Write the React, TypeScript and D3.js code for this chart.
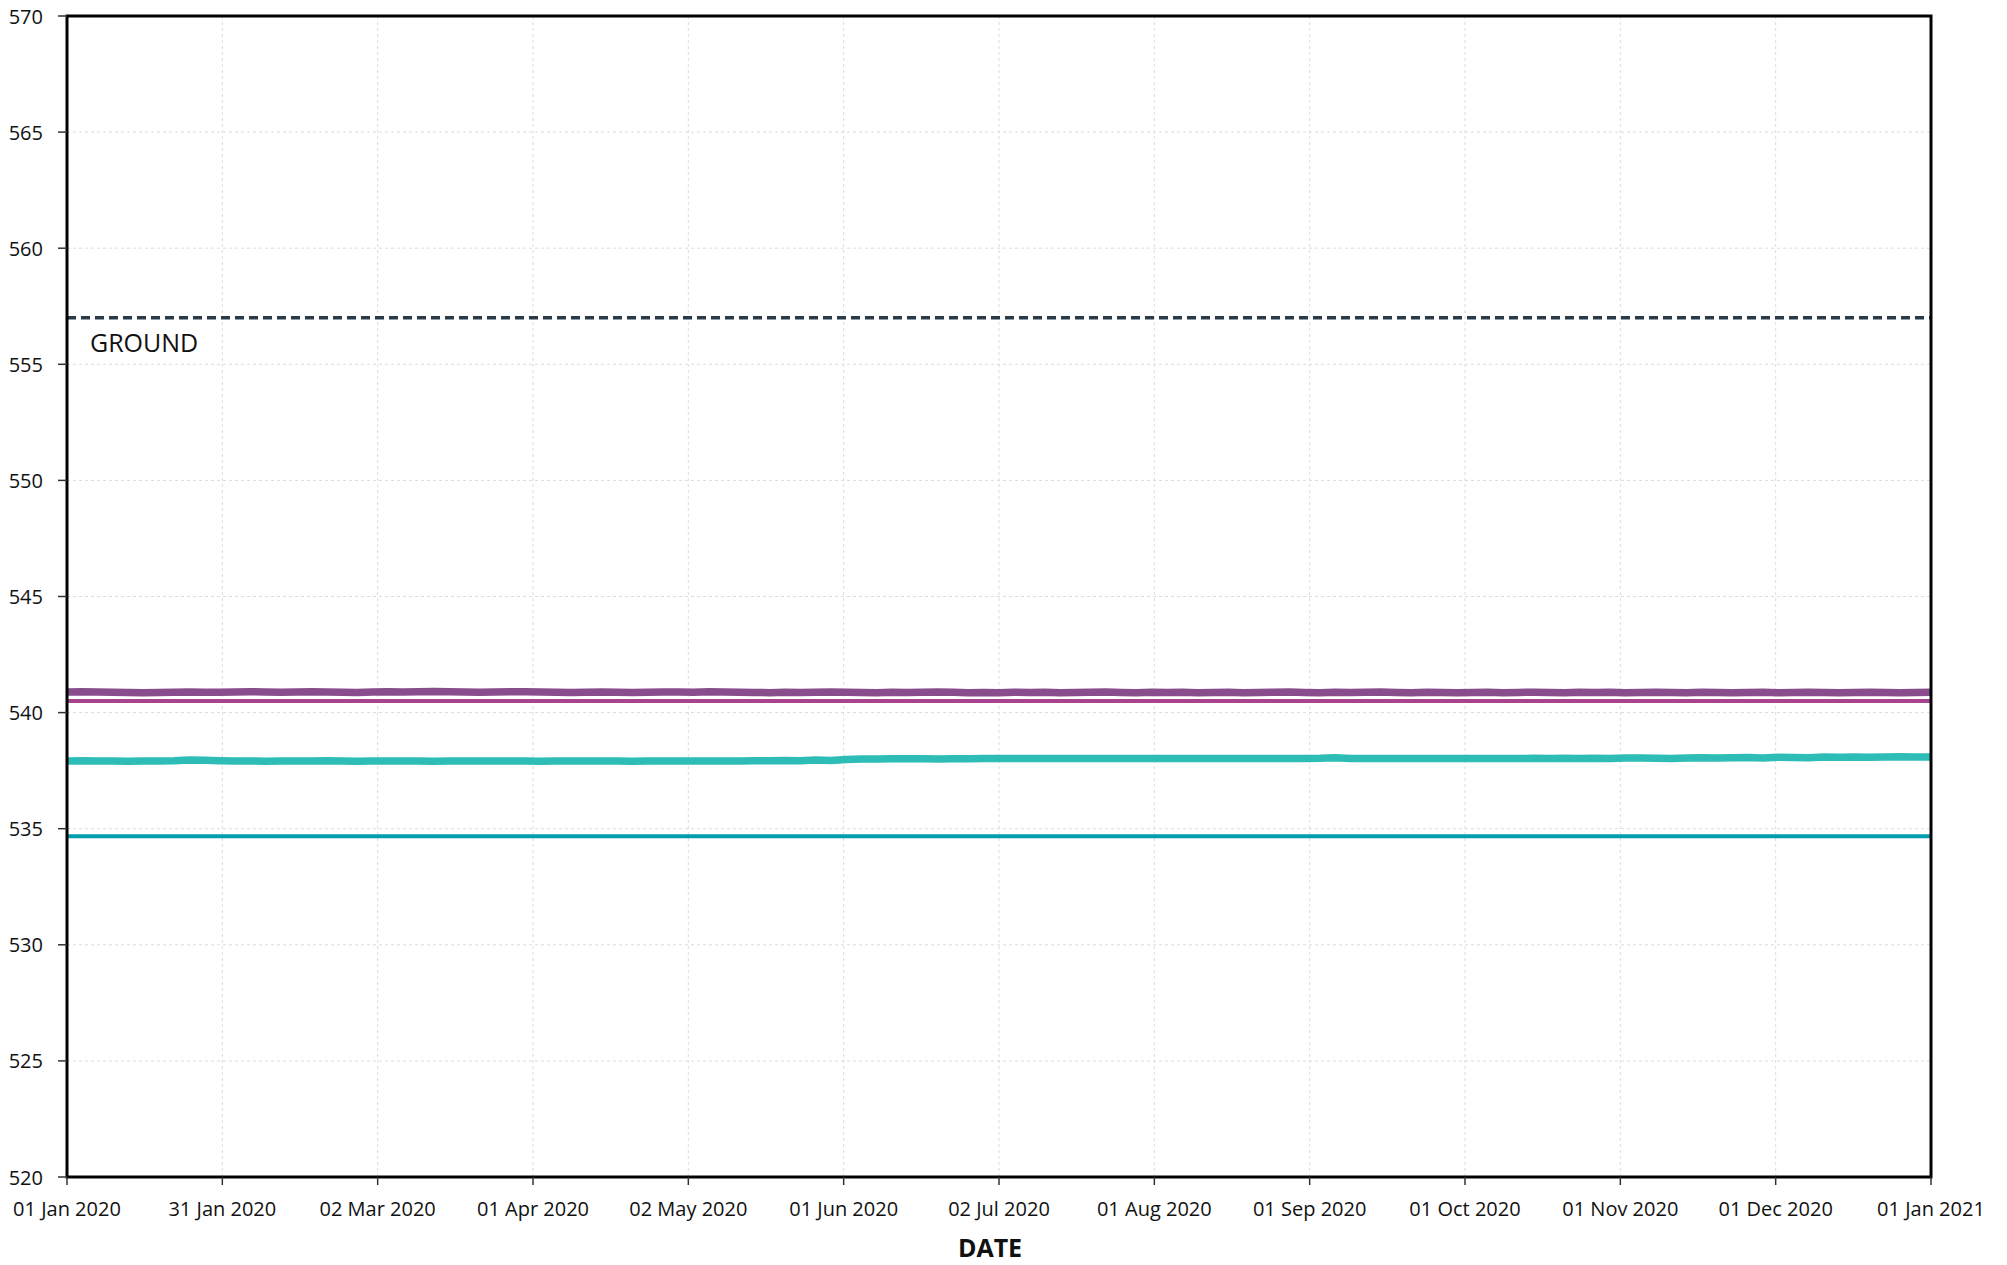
import React from "react";
import * as d3 from "d3";

// ---- data ----
const startDate = "2020-01-01";
const endDate = "2021-01-01";
const stepDays = 3; // purple/teal readings every 3 days
const yTicks = [520, 525, 530, 535, 540, 545, 550, 555, 560, 565, 570];
const xTickCount = 13;
const groundLevel = 557;
const pinkLevel = 540.5;
const blueLevel = 534.68;

const purpleValues = [
  540.89,540.90,540.89,540.88,540.87,540.86,540.87,540.88,540.89,540.88,
  540.88,540.89,540.90,540.89,540.88,540.89,540.90,540.89,540.88,540.87,
  540.89,540.90,540.89,540.90,540.91,540.90,540.89,540.88,540.89,540.90,
  540.90,540.89,540.88,540.87,540.88,540.89,540.88,540.87,540.88,540.89,
  540.89,540.88,540.90,540.89,540.88,540.87,540.86,540.88,540.87,540.88,
  540.89,540.88,540.87,540.86,540.88,540.87,540.88,540.89,540.88,540.86,
  540.87,540.86,540.88,540.87,540.88,540.86,540.87,540.88,540.89,540.87,
  540.86,540.88,540.87,540.88,540.86,540.87,540.88,540.86,540.87,540.88,
  540.89,540.87,540.86,540.88,540.87,540.88,540.89,540.87,540.86,540.88,
  540.87,540.86,540.87,540.88,540.86,540.87,540.88,540.87,540.86,540.88,
  540.87,540.88,540.86,540.87,540.88,540.87,540.86,540.88,540.87,540.86,
  540.87,540.88,540.86,540.87,540.88,540.87,540.86,540.87,540.88,540.87,
  540.86,540.87,540.88,
];

const tealValues = [
  537.92,537.93,537.92,537.92,537.91,537.92,537.92,537.93,537.96,537.95,
  537.93,537.92,537.92,537.91,537.92,537.92,537.92,537.93,537.92,537.91,
  537.92,537.92,537.92,537.92,537.91,537.92,537.92,537.92,537.92,537.92,
  537.92,537.91,537.92,537.92,537.92,537.92,537.92,537.91,537.92,537.92,
  537.92,537.92,537.92,537.92,537.92,537.93,537.93,537.94,537.93,537.96,
  537.94,537.98,538.00,538.00,538.01,538.01,538.01,538.00,538.01,538.01,
  538.02,538.02,538.02,538.02,538.02,538.02,538.02,538.02,538.02,538.02,
  538.02,538.02,538.02,538.02,538.02,538.02,538.02,538.02,538.02,538.02,
  538.02,538.02,538.03,538.06,538.02,538.02,538.02,538.02,538.02,538.02,
  538.02,538.02,538.02,538.02,538.02,538.02,538.03,538.02,538.03,538.02,
  538.03,538.02,538.04,538.05,538.03,538.02,538.04,538.06,538.05,538.06,
  538.07,538.05,538.08,538.07,538.06,538.09,538.08,538.09,538.08,538.09,
  538.10,538.09,538.09,
];

// ---- layout ----
const W = 2007;
const H = 1265;
const M = { left: 67, right: 1931, top: 16, bottom: 1177 };
const FONT = "'Open Sans', 'Noto Sans', sans-serif";

export default function App() {
  const t0 = new Date(startDate + "T00:00:00");
  const t1 = new Date(endDate + "T00:00:00");
  const x = d3.scaleTime().domain([t0, t1]).range([M.left, M.right]);
  const y = d3.scaleLinear().domain([520, 570]).range([M.bottom, M.top]);

  const dateAt = (i: number) => d3.timeDay.offset(t0, i * stepDays);
  const purple = purpleValues.map((v, i) => ({ d: dateAt(i), v }));
  const teal = tealValues.map((v, i) => ({ d: dateAt(i), v }));

  const line = d3
    .line<{ d: Date; v: number }>()
    .x((p) => x(p.d))
    .y((p) => y(p.v));

  const span = t1.getTime() - t0.getTime();
  const xTicks = d3
    .range(xTickCount)
    .map((i) => new Date(t0.getTime() + (span * i) / (xTickCount - 1)));
  const fmt = d3.timeFormat("%d %b %Y");

  return (
    <svg
      width={W}
      height={H}
      style={{ position: "absolute", left: 0, top: 0, background: "#fff" }}
      fontFamily={FONT}
    >
      {/* grid */}
      {yTicks.map((t) => (
        <line
          key={"gy" + t}
          x1={M.left}
          x2={M.right}
          y1={y(t)}
          y2={y(t)}
          stroke="#dcdcdc"
          strokeWidth={1}
          strokeDasharray="3,3"
        />
      ))}
      {xTicks.map((t, i) => (
        <line
          key={"gx" + i}
          x1={x(t)}
          x2={x(t)}
          y1={M.top}
          y2={M.bottom}
          stroke="#dcdcdc"
          strokeWidth={1}
          strokeDasharray="3,3"
        />
      ))}

      {/* ground */}
      <line
        x1={M.left}
        x2={M.right}
        y1={y(groundLevel)}
        y2={y(groundLevel)}
        stroke="#2b3a48"
        strokeWidth={3.5}
        strokeDasharray="9,5"
      />
      <text x={90} y={y(groundLevel) + 34} fontSize={25} fill="#111">
        GROUND
      </text>

      {/* constant levels */}
      <line
        x1={M.left}
        x2={M.right}
        y1={y(pinkLevel)}
        y2={y(pinkLevel)}
        stroke="#a8448f"
        strokeWidth={4}
      />
      <line
        x1={M.left}
        x2={M.right}
        y1={y(blueLevel)}
        y2={y(blueLevel)}
        stroke="#009faf"
        strokeWidth={4}
      />

      {/* series */}
      <path
        d={line(purple) || ""}
        fill="none"
        stroke="#894d8e"
        strokeWidth={7.5}
        strokeLinejoin="round"
      />
      <path
        d={line(teal) || ""}
        fill="none"
        stroke="#2ebdb6"
        strokeWidth={7.5}
        strokeLinejoin="round"
      />

      {/* frame */}
      <rect
        x={M.left}
        y={M.top}
        width={M.right - M.left}
        height={M.bottom - M.top}
        fill="none"
        stroke="#000"
        strokeWidth={3}
      />

      {/* y axis */}
      {yTicks.map((t) => (
        <g key={"ty" + t}>
          <line x1={M.left - 9} x2={M.left} y1={y(t)} y2={y(t)} stroke="#333" strokeWidth={1.5} />
          <text
            x={43}
            y={y(t)}
            textAnchor="end"
            dominantBaseline="central"
            fontSize={20}
            fill="#111"
          >
            {t}
          </text>
        </g>
      ))}

      {/* x axis */}
      {xTicks.map((t, i) => (
        <g key={"tx" + i}>
          <line x1={x(t)} x2={x(t)} y1={M.bottom} y2={M.bottom + 8} stroke="#333" strokeWidth={1.5} />
          <text
            x={x(t)}
            y={M.bottom + 39}
            textAnchor="middle"
            fontSize={20}
            fill="#111"
          >
            {fmt(t)}
          </text>
        </g>
      ))}
      <text x={990} y={1257} textAnchor="middle" fontSize={25} fontWeight="bold" fill="#111">
        DATE
      </text>
    </svg>
  );
}
